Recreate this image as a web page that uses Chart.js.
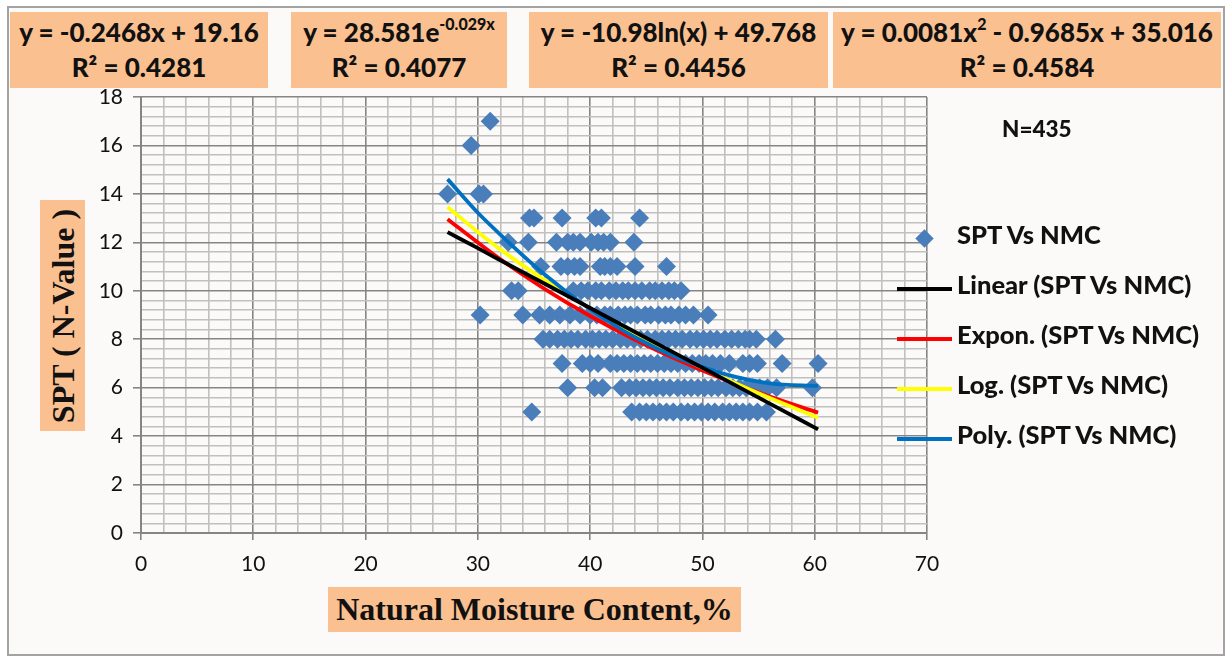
<!DOCTYPE html>
<html>
<head>
<meta charset="utf-8">
<script src="https://cdn.jsdelivr.net/npm/chart.js@4"></script>
<style>
  body { margin: 0; background: #ffffff; }
  #wrap { position: relative; width: 1229px; height: 660px; overflow: hidden; }
  #frame { position: absolute; left: 7px; top: 6px; width: 1214px; height: 646px;
           border: 2px solid #a3a3a3; background: #fbfaf8; }
  canvas { position: absolute; left: 0; top: 0; }
  .eq { position: absolute; top: 12px; height: 76px; background: #fac090;
        font-family: Lato, sans-serif; font-weight: 900; font-size: 26px; color: #111;
        text-align: center; line-height: 35px; padding-top: 3px; box-sizing: border-box; }
  .eq sup { font-size: 16px; line-height: 0; position: relative; top: -2px; }
  .ttl { position: absolute; background: #fac090; font-family: "Liberation Serif", serif;
         font-weight: bold; color: #111; text-align: center; }
  #legend { position: absolute; left: 897px; top: 220px; font-family: Lato, sans-serif;
            font-weight: 900; font-size: 25.5px; color: #111; }
  .row { position: relative; height: 50px; }
  .sw { position: absolute; left: 0; top: 17px; width: 55px; height: 4px; }
  .dm { position: absolute; left: 21px; top: 12px; width: 13px; height: 13px; background: #4a7ebb;
        transform: rotate(45deg); }
  .lt { position: absolute; left: 60px; top: -1px; white-space: nowrap; }
  #n { position: absolute; left: 1002px; top: 115px; font-family: Lato, sans-serif;
       font-weight: 900; font-size: 22.5px; color: #111; }
</style>
</head>
<body>
<div id="wrap">
  <div id="frame"></div>
  <canvas id="chart" width="1229" height="660"></canvas>

  <div class="eq" style="left:10px;width:258px">y = -0.2468x + 19.16<br>R² = 0.4281</div>
  <div class="eq" style="left:291px;width:216px">y = 28.581e<sup>-0.029x</sup><br>R² = 0.4077</div>
  <div class="eq" style="left:529px;width:299px">y = -10.98ln(x) + 49.768<br>R² = 0.4456</div>
  <div class="eq" style="left:833px;width:388px">y = 0.0081x<sup>2</sup> - 0.9685x + 35.016<br>R² = 0.4584</div>

  <div id="n">N=435</div>

  <div class="ttl" style="left:328px;top:587px;width:413px;height:45px;font-size:32px;line-height:45px">Natural Moisture Content,%</div>
  <div class="ttl" style="left:40px;top:200px;width:45px;height:231px">
    <div style="position:absolute;left:50%;top:50%;transform:translate(-50%,-50%) rotate(-90deg);white-space:nowrap;font-size:32px">SPT ( N-Value )</div>
  </div>

  <div id="legend"></div>
</div>

<script>
// Natural moisture content (%) readings, grouped by SPT N-value
const nmc17 = [31.1];
const nmc16 = [29.4];
const nmc14 = [27.3, 30.1, 30.5];
const nmc13 = [34.6, 35.0, 37.5, 40.5, 41.0, 44.4];
const nmc12 = [32.7, 34.5, 37.0, 38.0, 38.5, 39.1, 40.1, 40.7, 41.2, 41.8, 43.9];
const nmc11 = [35.6, 37.4, 38.0, 38.6, 39.1, 40.9, 41.3, 41.8, 42.4, 44.0, 46.8];
const nmc10 = [33.0, 33.6, 38.5, 39.2, 39.8, 40.5, 41.0, 41.7, 42.3, 42.9, 43.4, 44.0, 44.6,
               45.3, 45.8, 46.4, 47.0, 47.5, 48.1];
const nmc9 = [30.2, 34.0, 35.5, 36.4, 37.3, 38.2, 39.1, 40.0, 40.6, 41.3, 41.8, 42.5, 43.1,
              43.6, 44.2, 44.9, 45.4, 46.1, 46.7, 47.2, 47.9, 48.5, 49.2, 50.5];
const nmc8 = [35.8, 36.4, 37.1, 37.7, 38.3, 38.9, 39.6, 40.2, 40.8, 41.4, 42.0, 42.7, 43.3,
              43.9, 44.5, 45.1, 45.8, 46.4, 47.0, 47.6, 48.2, 48.9, 49.5, 50.1, 50.7, 51.3,
              52.0, 52.6, 53.2, 53.8, 54.2, 54.8, 56.5];
const nmc7 = [37.5, 39.3, 40.0, 40.7, 41.8, 42.4, 43.0, 43.6, 44.2, 44.8, 45.4, 46.0, 46.6,
              47.2, 47.8, 48.5, 49.1, 49.7, 50.3, 50.9, 51.6, 52.4, 53.6, 54.2, 54.9, 57.1, 60.3];
const nmc6 = [38.0, 40.4, 41.1, 42.8, 43.5, 44.1, 44.7, 45.3, 45.9, 46.5, 47.1, 47.8, 48.4,
              49.0, 49.6, 50.2, 50.8, 51.4, 52.1, 52.7, 53.3, 53.9, 54.5, 55.1, 55.8, 56.6, 59.8];
const nmc5 = [34.8, 43.7, 44.4, 45.0, 45.6, 46.2, 46.8, 47.4, 48.1, 48.7, 49.3, 49.9, 50.5,
              51.1, 51.8, 52.4, 53.0, 53.6, 54.2, 54.9, 55.7];

const sptValues = [17, 16, 14, 13, 12, 11, 10, 9, 8, 7, 6, 5];
const nmcRows = [nmc17, nmc16, nmc14, nmc13, nmc12, nmc11, nmc10, nmc9, nmc8, nmc7, nmc6, nmc5];

// trend lines
const trendX  = [27.3, 30, 32, 36, 40, 44, 48, 52, 56, 60.3];
const linearY = [12.42, 11.76, 11.26, 10.28, 9.29, 8.30, 7.31, 6.33, 5.34, 4.28];
const exponY  = [12.95, 11.99, 11.30, 10.06, 8.96, 7.98, 7.11, 6.33, 5.63, 4.97];
const logY    = [13.46, 12.43, 11.71, 10.42, 9.26, 8.22, 7.26, 6.38, 5.57, 4.76];
const polyY   = [14.61, 13.22, 12.32, 10.65, 9.24, 8.08, 7.19, 6.56, 6.18, 6.07];

const scatterPts = [];
nmcRows.forEach((row, i) => row.forEach(x => scatterPts.push({ x: x, y: sptValues[i] })));
const pts = ys => trendX.map((x, i) => ({ x: x, y: ys[i] }));

const trendLine = (label, ys, color, order) => ({
  type: "line", label: label, data: pts(ys), borderColor: color, backgroundColor: color,
  borderWidth: 3.8, pointRadius: 0, cubicInterpolationMode: "monotone", order: order,
});

const datasets = [
  { type: "scatter", label: "SPT Vs NMC", data: scatterPts, pointStyle: "rectRot",
    pointRadius: 9.5, backgroundColor: "#4a7ebb", borderColor: "#4a7ebb", borderWidth: 0, order: 10 },
  trendLine("Linear (SPT Vs NMC)", linearY, "#000000", 0),
  trendLine("Expon. (SPT Vs NMC)", exponY, "#ff0000", 3),
  trendLine("Log. (SPT Vs NMC)", logY, "#ffff00", 2),
  trendLine("Poly. (SPT Vs NMC)", polyY, "#0070c0", 1),
];

const isMajor = (v, step) => Math.abs(v / step - Math.round(v / step)) < 1e-6;

new Chart(document.getElementById("chart"), {
  data: { datasets: datasets },
  options: {
    responsive: false,
    animation: false,
    layout: { padding: { left: 0, top: 97, right: 302, bottom: 87 } },
    plugins: { legend: { display: false }, tooltip: { enabled: false } },
    scales: {
      x: {
        type: "linear", min: 0, max: 70,
        afterFit: s => { s.height = 40; },
        ticks: {
          stepSize: 2, autoSkip: false, maxRotation: 0, padding: 12, color: "#111",
          font: { family: "Lato", size: 21 },
          callback: v => isMajor(v, 10) ? v : "",
        },
        grid: {
          lineWidth: 1.6, tickLength: 7,
          color: c => isMajor(c.tick.value, 10) ? "#858585" : "#c0c0c0",
          tickColor: c => isMajor(c.tick.value, 10) ? "#858585" : "rgba(0,0,0,0)",
        },
        border: { color: "#858585", width: 2 },
      },
      y: {
        type: "linear", min: 0, max: 18,
        afterFit: s => { s.width = 141; },
        ticks: {
          stepSize: 0.4, autoSkip: false, padding: 10, color: "#111",
          font: { family: "Lato", size: 21 },
          callback: v => isMajor(v, 2) ? Math.round(v) : "",
        },
        grid: {
          lineWidth: 1.6, tickLength: 8,
          color: c => isMajor(c.tick.value, 2) ? "#858585" : "#c0c0c0",
          tickColor: c => isMajor(c.tick.value, 2) ? "#858585" : "rgba(0,0,0,0)",
        },
        border: { color: "#858585", width: 2 },
      },
    },
  },
});

// legend built from the datasets
const legend = document.getElementById("legend");
datasets.forEach(ds => {
  const row = document.createElement("div");
  row.className = "row";
  const mark = document.createElement("div");
  if (ds.type === "scatter") {
    mark.className = "dm";
  } else {
    mark.className = "sw";
    mark.style.background = ds.borderColor;
  }
  const txt = document.createElement("div");
  txt.className = "lt";
  txt.textContent = ds.label;
  row.appendChild(mark);
  row.appendChild(txt);
  legend.appendChild(row);
});
</script>
</body>
</html>
